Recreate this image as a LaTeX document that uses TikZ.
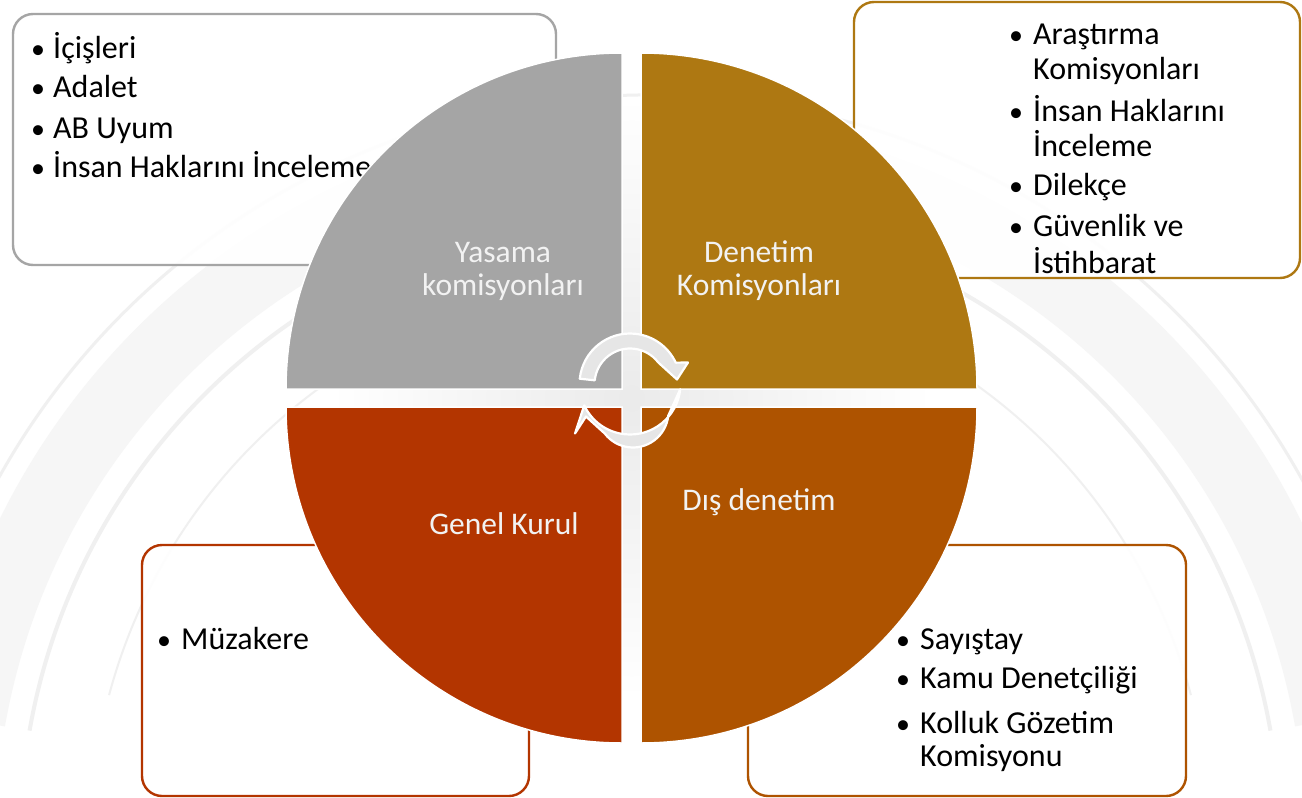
\documentclass[tikz,border=0pt]{standalone}
\usepackage{fontspec}
\setmainfont{Carlito}
\definecolor{qgray}{HTML}{A5A5A5}
\definecolor{qgold}{HTML}{AE7812}
\definecolor{qred}{HTML}{B33500}
\definecolor{qorange}{HTML}{AE5300}
\definecolor{lbl}{HTML}{F2F2F2}
\definecolor{arrowfill}{HTML}{E6E6E6}
\definecolor{bgline}{HTML}{F0F0F0}
\definecolor{bgband}{HTML}{F6F6F6}
\begin{document}
\begin{tikzpicture}[x=1pt,y=-1pt,
  box/.style={draw, line width=2.4pt, rounded corners=20pt, fill=white, fill opacity=0.92},
  quad/.style={draw=white, line width=1.5pt},
  itemtext/.style={anchor=base west, inner sep=0pt, font=\fontsize{32}{37}\selectfont, text=black},
  bul/.style={anchor=base, inner sep=0pt, font=\fontsize{28}{37}\selectfont, text=black},
  qlabel/.style={anchor=base, inner sep=0pt, text=lbl, font=\fontsize{31.5}{35}\selectfont},
  cyc/.style={fill=arrowfill, draw=white, line width=2.2pt, line join=round}]
\useasboundingbox (0,0) rectangle (1302,798);
\fill[white] (0,0) rectangle (1302,798);
% faint background (parliament hall)
\draw[bgband, line width=70pt] (650,840) ++(190:690) arc[start angle=190, end angle=350, radius=690];
\draw[bgline, line width=4pt] (650,840) ++(190:630) arc[start angle=190, end angle=350, radius=630];
\draw[bgline, line width=3pt] (650,840) ++(188:745) arc[start angle=188, end angle=352, radius=745];
\draw[bgline, line width=2pt] (650,840) ++(195:560) arc[start angle=195, end angle=345, radius=560];

% text boxes
\draw[box, draw=qgray] (13,14) rectangle (556,265);
\draw[box, draw=qgold] (854,2) rectangle (1300,278);
\draw[box, draw=qred] (142,545) rectangle (529,796);
\draw[box, draw=qorange] (748,545) rectangle (1186,796);

% top-left box items
\node[bul] (b1) at (38,58) {•};
\node[itemtext] (t1) at (53,58) {İçişleri};
\node[bul] (b2) at (38,97) {•};
\node[itemtext] (t2) at (53,97) {Adalet};
\node[bul] (b3) at (38,138) {•};
\node[itemtext] (t3) at (53,138) {AB Uyum};
\node[bul] (b4) at (38,177) {•};
\node[itemtext] (t4) at (53,177) {İnsan Haklarını İnceleme};

% top-right box items
\node[bul] (b5) at (1016,44) {•};
\node[itemtext] (t5) at (1033,44) {Araştırma};
\node[itemtext] (t5b) at (1033,79) {Komisyonları};
\node[bul] (b6) at (1016,121) {•};
\node[itemtext] (t6) at (1033,121) {İnsan Haklarını};
\node[itemtext] (t6b) at (1033,156) {İnceleme};
\node[bul] (b7) at (1016,195) {•};
\node[itemtext] (t7) at (1033,195) {Dilekçe};
\node[bul] (b8) at (1016,236) {•};
\node[itemtext] (t8) at (1033,236) {Güvenlik ve};
\node[itemtext] (t8b) at (1033,273) {İstihbarat};

% bottom-left box
\node[bul] (b9) at (164,649) {•};
\node[itemtext] (t9) at (181,649) {Müzakere};

% bottom-right box
\node[bul] (b10) at (903,649) {•};
\node[itemtext] (t10) at (920,649) {Sayıştay};
\node[bul] (b11) at (903,688) {•};
\node[itemtext] (t11) at (920,688) {Kamu Denetçiliği};
\node[bul] (b12) at (903,733) {•};
\node[itemtext] (t12) at (920,733) {Kolluk Gözetim};
\node[itemtext] (t12b) at (920,766) {Komisyonu};

% gap shading
\shade[inner color=black!8, outer color=white] (631.5,398) circle[radius=300];

% quadrants
\draw[quad, fill=qgray] (622,389) -- (286,389) arc[start angle=180, end angle=270, radius=336] -- cycle;
\draw[quad, fill=qgold] (641,389) -- (641,53) arc[start angle=270, end angle=360, radius=336] -- cycle;
\draw[quad, fill=qorange] (641,407) -- (977,407) arc[start angle=0, end angle=90, radius=336] -- cycle;
\draw[quad, fill=qred] (622,407) -- (622,743) arc[start angle=90, end angle=180, radius=336] -- cycle;

% quadrant labels
\node[qlabel] (y1) at (503,262) {Yasama};
\node[qlabel] (y2) at (503,295) {komisyonları};
\node[qlabel] (d1) at (759,262) {Denetim};
\node[qlabel] (d2) at (759,295) {Komisyonları};
\node[qlabel] (g1) at (504,534) {Genel Kurul};
\node[qlabel] (e1) at (759,510) {Dış denetim};

% circular arrows
\coordinate (ac) at (630,384);
\draw[cyc] (ac) ++(186:50.5) arc[start angle=186, end angle=335, radius=50.5]
  -- (688,362.5) -- (677,379.5) -- (658.3,362.5)
  arc[start angle=322.7, end angle=186, radius=35.5] -- cycle;
\begin{scope}[rotate around={180:(631.5,398)}]
\draw[cyc] (ac) ++(186:50.5) arc[start angle=186, end angle=335, radius=50.5]
  -- (688,362.5) -- (677,379.5) -- (658.3,362.5)
  arc[start angle=322.7, end angle=186, radius=35.5] -- cycle;
\end{scope}
\end{tikzpicture}
\end{document}
